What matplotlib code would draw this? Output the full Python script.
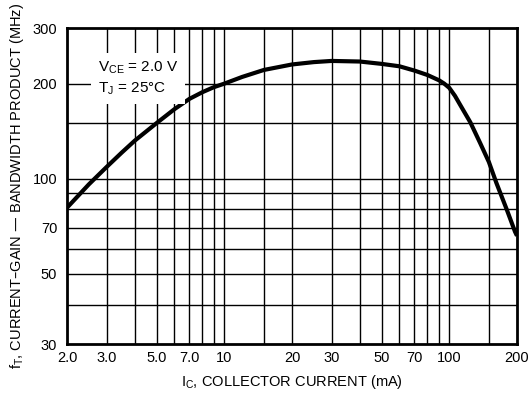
"""fT vs collector current, log-log datasheet style chart."""

import matplotlib

matplotlib.use("Agg")
import matplotlib.pyplot as plt
from matplotlib.ticker import FixedLocator, NullLocator

plt.rcParams["font.family"] = ["Liberation Sans Narrow", "Liberation Sans", "DejaVu Sans"]
plt.rcParams["mathtext.default"] = "regular"

# curve (mA, MHz)
ic_ma = [2.0, 2.5, 3.0, 3.5, 4.0, 5.0, 6.0, 7.0, 8.0, 9.0, 10, 12, 15, 20, 25, 30,
         40, 50, 60, 70, 80, 90, 95, 100, 106, 112, 124, 137, 150, 162, 180, 196, 200]
ft_mhz = [81, 96, 109, 121, 132, 150, 166, 179, 188, 195, 200, 210, 221, 230, 234, 236,
          235, 231, 227, 220, 213, 205, 200, 194, 183, 171, 151, 130, 113, 97, 80, 68, 66]

x_grid = [3, 4, 5, 6, 7, 8, 9, 10, 15, 20, 30, 40, 50, 60, 70, 80, 90, 100, 150]
y_grid = [40, 50, 60, 70, 80, 90, 100, 150, 200]
x_ticks = [2, 3, 5, 7, 10, 20, 30, 50, 70, 100, 200]
x_tick_labels = ["2.0", "3.0", "5.0", "7.0", "10", "20", "30", "50", "70", "100", "200"]
y_ticks = [30, 50, 70, 100, 200, 300]
y_tick_labels = ["30", "50", "70", "100", "200", "300"]

fig = plt.figure(figsize=(5.29, 3.95), dpi=100)
ax = fig.add_axes([0.1267, 0.1291, 0.8506, 0.8000])
ax.set_xscale("log")
ax.set_yscale("log")
ax.set_xlim(2, 200)
ax.set_ylim(30, 300)

for xv in x_grid:
    ax.axvline(xv, color="black", lw=1.0, zorder=1)
for yv in y_grid:
    ax.axhline(yv, color="black", lw=1.0, zorder=1)

ax.plot(ic_ma, ft_mhz, color="black", lw=3.0, solid_joinstyle="round",
        solid_capstyle="butt", zorder=3)

ax.xaxis.set_major_locator(FixedLocator(x_ticks))
ax.xaxis.set_minor_locator(NullLocator())
ax.set_xticklabels(x_tick_labels)
ax.yaxis.set_major_locator(FixedLocator(y_ticks))
ax.yaxis.set_minor_locator(NullLocator())
ax.set_yticklabels(y_tick_labels)
ax.tick_params(axis="both", length=0, labelsize=10.5)
ax.tick_params(axis="x", pad=5)
ax.tick_params(axis="y", pad=7)

for spine in ax.spines.values():
    spine.set_linewidth(2)
    spine.set_zorder(4)

ax.set_xlabel("I$_C$, COLLECTOR CURRENT (mA)", fontsize=10.5, labelpad=6)
ax.set_ylabel("f$_T$, CURRENT\u2013GAIN \u2014 BANDWIDTH PRODUCT (MHz)", fontsize=10.5, labelpad=5)

ax.text(0.0685, 0.84, "V$_{CE}$ = 2.0 V\nT$_J$ = 25\u00b0C", transform=ax.transAxes,
        fontsize=11, va="center", ha="left", linespacing=1.4, zorder=5,
        bbox=dict(facecolor="white", edgecolor="none", pad=5))

fig.savefig("out.png", dpi=100)
